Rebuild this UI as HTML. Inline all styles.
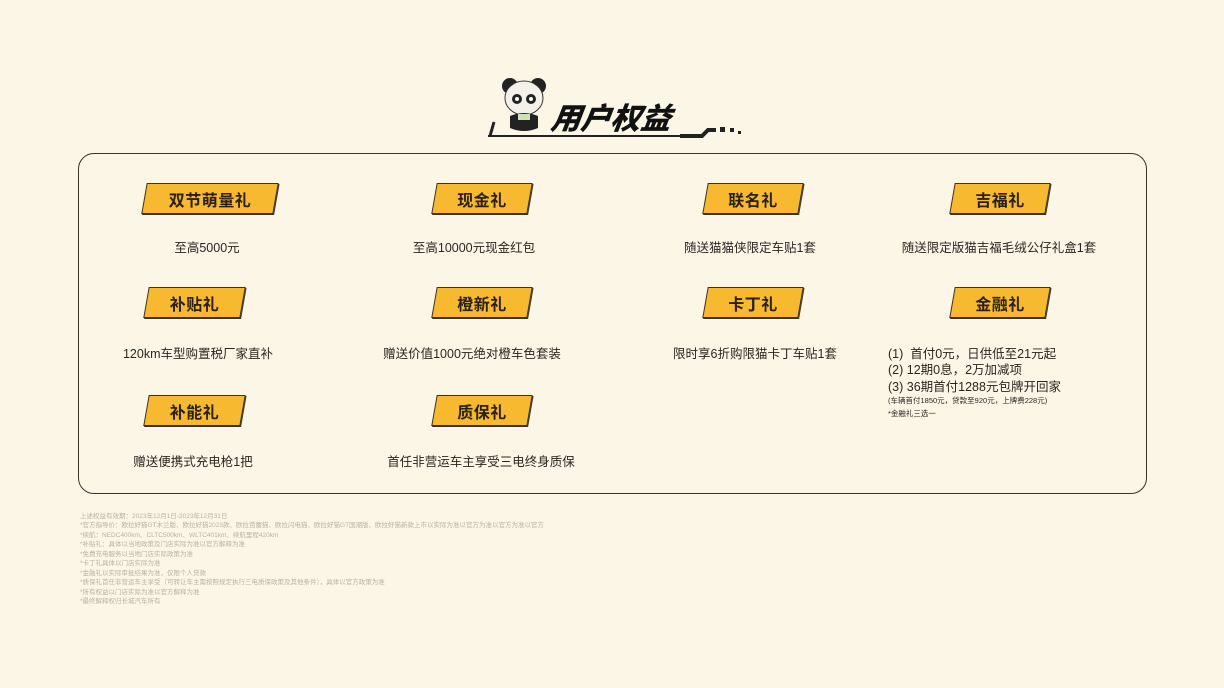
<!DOCTYPE html>
<html><head><meta charset="utf-8"><style>
*{margin:0;padding:0;box-sizing:border-box}
body{width:1224px;height:688px;background:#fcf6e7;position:relative;overflow:hidden;font-family:"Liberation Sans","Noto Sans CJK SC",sans-serif;color:#2a2520}
.box{position:absolute;left:78px;top:153px;width:1069px;height:341px;border:1.6px solid #3a332c;border-radius:16px}
.tag{position:absolute;height:31px;}
.tag i{position:absolute;inset:0;background:#f6b92f;border:1.6px solid #3a332c;transform:skewX(-10deg);box-shadow:1px 1px 0 #3a332c}
.tag span{position:absolute;inset:0;display:flex;align-items:center;justify-content:center;font-weight:bold;font-size:16px;letter-spacing:0.5px;color:#2a2018}
.t{position:absolute;font-size:12.5px;white-space:nowrap;text-align:center;transform:translateX(-50%)}
.f{position:absolute;left:888px;font-size:12.5px;white-space:nowrap}
.fn{position:absolute;left:80px;font-size:6.5px;color:#b9b2a4;white-space:nowrap}
</style></head><body>
<svg style="position:absolute;left:480px;top:70px" width="280" height="80">
 <circle cx="30" cy="16" r="8" fill="#222"/><circle cx="58" cy="16" r="8" fill="#222"/>
 <ellipse cx="44" cy="28" rx="19" ry="17" fill="#f4f1ea" stroke="#333" stroke-width="1"/>
 <circle cx="37" cy="29" r="5" fill="#222"/><circle cx="51" cy="29" r="5" fill="#222"/>
 <circle cx="37" cy="29" r="2" fill="#fff"/><circle cx="51" cy="29" r="2" fill="#fff"/>
 <path d="M30 46 Q44 40 58 46 L58 58 Q44 64 30 58Z" fill="#222"/>
 <rect x="38" y="44" width="12" height="6" fill="#cfe3b0"/>
 <path d="M10 66 L14 52" stroke="#222" stroke-width="3"/>
 <path d="M8 66 L200 66" stroke="#222" stroke-width="2"/>
 <path d="M200 66 L222 66 L228 60 L236 60" stroke="#222" stroke-width="4" fill="none"/>
 <rect x="240" y="57" width="5" height="5" fill="#222"/>
 <rect x="250" y="58" width="4" height="4" fill="#222"/>
 <rect x="258" y="61" width="3" height="3" fill="#222"/>
 <text x="70" y="59" font-family="Liberation Sans,Noto Sans CJK SC,sans-serif" font-weight="900" font-size="30" font-style="italic" fill="#111" transform="skewX(-8) translate(8,0)">用户权益</text>
</svg>
<div class="box"></div>
<div class="tag" style="left:144px;top:183px;width:132px"><i></i><span>双节萌量礼</span></div>
<div class="tag" style="left:434px;top:183px;width:96px"><i></i><span>现金礼</span></div>
<div class="tag" style="left:705px;top:183px;width:96px"><i></i><span>联名礼</span></div>
<div class="tag" style="left:952px;top:183px;width:96px"><i></i><span>吉福礼</span></div>
<div class="tag" style="left:146px;top:287px;width:97px"><i></i><span>补贴礼</span></div>
<div class="tag" style="left:434px;top:287px;width:96px"><i></i><span>橙新礼</span></div>
<div class="tag" style="left:705px;top:287px;width:96px"><i></i><span>卡丁礼</span></div>
<div class="tag" style="left:952px;top:287px;width:96px"><i></i><span>金融礼</span></div>
<div class="tag" style="left:146px;top:395px;width:97px"><i></i><span>补能礼</span></div>
<div class="tag" style="left:434px;top:395px;width:96px"><i></i><span>质保礼</span></div>
<div class="t" style="left:207px;top:237px">至高5000元</div>
<div class="t" style="left:474px;top:237px">至高10000元现金红包</div>
<div class="t" style="left:750px;top:237px">随送猫猫侠限定车贴1套</div>
<div class="t" style="left:999px;top:237px">随送限定版猫吉福毛绒公仔礼盒1套</div>
<div class="t" style="left:198px;top:343px">120km车型购置税厂家直补</div>
<div class="t" style="left:472px;top:343px">赠送价值1000元绝对橙车色套装</div>
<div class="t" style="left:755px;top:343px">限时享6折购限猫卡丁车贴1套</div>
<div class="t" style="left:193px;top:451px">赠送便携式充电枪1把</div>
<div class="t" style="left:481px;top:451px">首任非营运车主享受三电终身质保</div>
<div class="f" style="top:343px">(1)&nbsp;&nbsp;首付0元，日供低至21元起</div>
<div class="f" style="top:359px">(2) 12期0息，2万加减项</div>
<div class="f" style="top:376px">(3) 36期首付1288元包牌开回家</div>
<div class="f" style="top:395px;font-size:7.5px">(车辆首付1850元，贷款至920元，上牌费228元)</div>
<div class="f" style="top:408px;font-size:7.5px">*金融礼三选一</div>
<div class="fn" style="top:510px">上述权益有效期：2023年12月1日-2023年12月31日</div>
<div class="fn" style="top:519px">*官方指导价：欧拉好猫GT木兰版、欧拉好猫2023款、欧拉芭蕾猫、欧拉闪电猫、欧拉好猫GT国潮版、欧拉好猫新款上市以实际为准以官方为准以官方为准以官方</div>
<div class="fn" style="top:529px">*续航：NEDC400km、CLTC500km、WLTC401km、续航里程420km</div>
<div class="fn" style="top:538px">*补贴礼：具体以当地政策及门店实际为准以官方解释为准</div>
<div class="fn" style="top:548px">*免费充电服务以当地门店实际政策为准</div>
<div class="fn" style="top:557px">*卡丁礼具体以门店实际为准</div>
<div class="fn" style="top:567px">*金融礼以实际审批结果为准，仅限个人贷款</div>
<div class="fn" style="top:576px">*质保礼首任非营运车主享受（可转让车主需按照规定执行三电质保政策及其他条件），具体以官方政策为准</div>
<div class="fn" style="top:586px">*所有权益以门店实际为准以官方解释为准</div>
<div class="fn" style="top:595px">*最终解释权归长城汽车所有</div>
</body></html>
